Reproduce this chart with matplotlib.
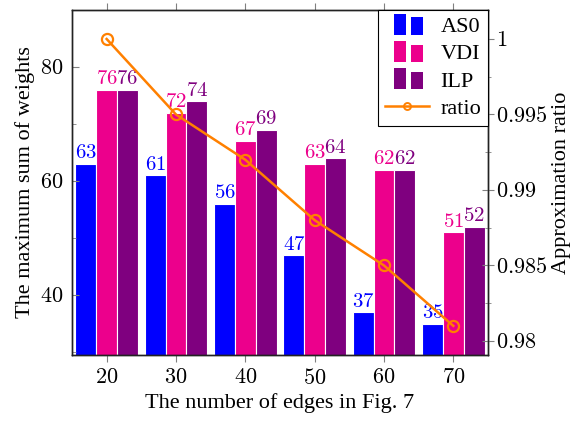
import numpy as np
import matplotlib
matplotlib.use("Agg")
import matplotlib.pyplot as plt
from matplotlib.patches import Rectangle
from matplotlib.lines import Line2D
from matplotlib.legend_handler import HandlerBase
from matplotlib.ticker import MultipleLocator, FuncFormatter

plt.rcParams['font.family'] = ['Liberation Serif', 'DejaVu Serif']
plt.rcParams['mathtext.fontset'] = 'cm'

edges = [20, 30, 40, 50, 60, 70]
as0 = [63, 61, 56, 47, 37, 35]
vdi = [76, 72, 67, 63, 62, 51]
ilp = [76, 74, 69, 64, 62, 52]
ratio = [1.0, 0.995, 0.992, 0.988, 0.985, 0.981]

names = ['AS0', 'VDI', 'ILP']
colors = ['#0000FF', '#EC008C', '#7F007F']
orange = '#FF8000'
fs = 16


class TwoBars(HandlerBase):
    # pgfplots style legend image: two small bars
    def create_artists(self, legend, orig, xd, yd, w, h, fontsize, trans):
        c = orig.get_facecolor()
        r1 = Rectangle((xd + 0.2 * w, yd - 0.15 * h), 0.28 * w, 1.35 * h,
                       facecolor=c, edgecolor='none', transform=trans)
        r2 = Rectangle((xd + 0.58 * w, yd - 0.15 * h), 0.28 * w, 1.1 * h,
                       facecolor=c, edgecolor='none', transform=trans)
        return [r1, r2]


fig = plt.figure(figsize=(5.74, 4.24), dpi=100)
ax = fig.add_axes([0.1254, 0.1627, 0.7248, 0.8137])

x = np.array(edges, dtype=float)
bw = 3.0
for k, (vals, c) in enumerate(zip([as0, vdi, ilp], colors)):
    xs = x + (k - 1) * 3.0
    ax.bar(xs, vals, width=bw, color=c, edgecolor='white', linewidth=0.8)
    for xi, v in zip(xs, vals):
        ax.annotate(f'${v}$', (xi, v), xytext=(0, 0.5), textcoords='offset points',
                    ha='center', va='bottom', color=c, fontsize=15)

ax.set_xlim(15, 75)
ax.set_ylim(29.5, 90)
ax.set_xticks(edges)
ax.yaxis.set_major_locator(MultipleLocator(20))
ax.yaxis.set_minor_locator(MultipleLocator(10))
ax.xaxis.set_major_formatter(FuncFormatter(lambda v, p: f'${int(v)}$'))
ax.yaxis.set_major_formatter(FuncFormatter(lambda v, p: f'${int(v)}$'))
ax.tick_params(axis='x', direction='out', top=True, length=5, color='gray',
               labelsize=fs, pad=5)
ax.tick_params(axis='y', which='both', direction='in', right=True, color='gray',
               labelsize=fs, pad=6)
ax.tick_params(axis='y', which='major', length=5)
ax.tick_params(axis='y', which='minor', length=3)
ax.set_xlabel('The number of edges in Fig. 7', fontsize=fs, labelpad=3)
ax.set_ylabel('The maximum sum of weights', fontsize=fs, labelpad=4)

ax2 = ax.twinx()
ax2.plot(edges, ratio, color=orange, lw=1.8, marker='o', markersize=8,
         markerfacecolor='none', markeredgewidth=1.6)
ax2.set_ylim(0.97907, 1.00192)
ax2.yaxis.set_major_locator(MultipleLocator(0.005))
ax2.yaxis.set_minor_locator(MultipleLocator(0.0025))


def rfmt(v, p):
    s = f'{v:.3f}'.rstrip('0').rstrip('.')
    return f'${s}$'


ax2.yaxis.set_major_formatter(FuncFormatter(rfmt))
ax2.tick_params(axis='y', which='both', direction='inout', color='gray',
                labelsize=fs, pad=2)
ax2.tick_params(axis='y', which='major', length=8)
ax2.tick_params(axis='y', which='minor', length=5)
ax2.set_ylabel('Approximation ratio', fontsize=fs, labelpad=3)

for a in (ax, ax2):
    for s in a.spines.values():
        s.set_linewidth(1.0)
        s.set_color('#222222')

handles = [Rectangle((0, 0), 1, 1, facecolor=c) for c in colors]
handles.append(Line2D([0], [0], color=orange, lw=1.8, marker='o', markersize=5,
                      markerfacecolor='none', markeredgewidth=1.4))
leg = ax2.legend(handles, names + ['ratio'], loc='upper right',
                 handler_map={Rectangle: TwoBars()}, fontsize=fs,
                 fancybox=False, edgecolor='black', framealpha=1,
                 borderaxespad=0, handlelength=2.0, labelspacing=0.3,
                 borderpad=0.3, handletextpad=0.5)
leg.get_frame().set_linewidth(0.8)

fig.savefig('out.png', dpi=100)
